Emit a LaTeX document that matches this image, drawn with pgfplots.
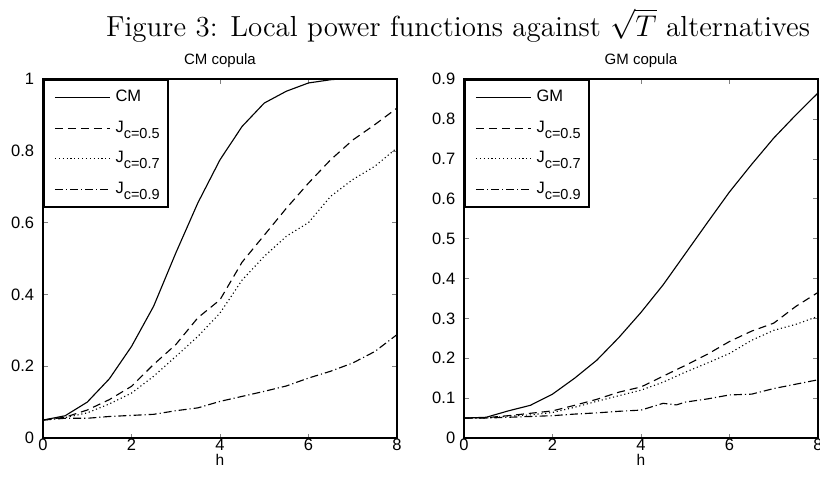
\documentclass[border=0pt]{standalone}
\usepackage{fontspec}
\setsansfont{Liberation Sans}
\usepackage{pgfplots}
\pgfplotsset{compat=1.18}
\usepackage{pgfplotstable}

\pgfplotstableread{
h v
0 0.05
0.5 0.062
1 0.10
1.5 0.165
2 0.255
2.5 0.367
3 0.515
3.5 0.655
4 0.775
4.5 0.868
5 0.933
5.5 0.966
6 0.989
6.5 0.998
6.7 1.0
}\cmA
\pgfplotstableread{
h v
0 0.05
0.5 0.058
1 0.078
1.5 0.107
2 0.144
2.5 0.205
3 0.26
3.5 0.335
4 0.385
4.5 0.49
5 0.565
5.5 0.64
6 0.71
6.5 0.775
7 0.83
7.5 0.873
8 0.919
}\cmB
\pgfplotstableread{
h v
0 0.05
0.5 0.057
1 0.07
1.5 0.095
2 0.125
2.5 0.172
3 0.227
3.5 0.283
4 0.348
4.5 0.44
5 0.506
5.5 0.562
6 0.6
6.5 0.673
7 0.72
7.5 0.757
8 0.808
}\cmC
\pgfplotstableread{
h v
0 0.05
0.5 0.055
1 0.055
1.5 0.06
2 0.063
2.5 0.066
3 0.076
3.5 0.084
4 0.102
4.5 0.116
5 0.13
5.5 0.145
6 0.167
6.5 0.186
7 0.209
7.5 0.241
8 0.288
}\cmD
\pgfplotstableread{
h v
0 0.05
0.5 0.052
1 0.068
1.5 0.082
2 0.11
2.5 0.15
3 0.195
3.5 0.252
4 0.315
4.5 0.384
5 0.462
5.5 0.54
6 0.617
6.5 0.686
7 0.752
7.5 0.81
8 0.865
}\gmA
\pgfplotstableread{
h v
0 0.05
0.5 0.051
1 0.056
1.5 0.062
2 0.068
2.5 0.082
3 0.097
3.5 0.115
4 0.128
4.5 0.155
5 0.182
5.5 0.21
6 0.242
6.5 0.268
7 0.288
7.5 0.33
8 0.365
}\gmB
\pgfplotstableread{
h v
0 0.05
0.5 0.05
1 0.055
1.5 0.058
2 0.064
2.5 0.077
3 0.092
3.5 0.106
4 0.12
4.5 0.14
5 0.165
5.5 0.188
6 0.212
6.5 0.245
7 0.27
7.5 0.285
8 0.305
}\gmC
\pgfplotstableread{
h v
0 0.05
0.5 0.05
1 0.052
1.5 0.054
2 0.056
2.5 0.06
3 0.063
3.5 0.067
4 0.07
4.5 0.087
4.8 0.083
5 0.09
5.5 0.098
6 0.108
6.5 0.11
7 0.124
7.5 0.135
8 0.146
}\gmD

\newcommand{\sub}[1]{J\raisebox{-2.4pt}{\fontsize{5.8}{6}\selectfont #1}}

\pgfplotsset{
  mstyle/.style={
    scale only axis,
    anchor=south west,
    width=141.6pt, height=143.6pt,
    axis line style={line width=0.5pt},
    tick align=inside,
    major tick length=1.8pt,
    xmin=0, xmax=8,
    xtick={0,2,4,6,8},
    every tick label/.append style={font=\sffamily\fontsize{6.6}{7}\selectfont},
    /pgf/number format/assume math mode=true,
    xticklabel style={anchor=base, yshift=-5.1pt},
    title style={at={(0.5,1)}, anchor=base, yshift=0pt, font=\sffamily\fontsize{6}{7}\selectfont},
    xlabel={h},
    xlabel style={at={(0.5,0)}, anchor=base, yshift=-11pt, font=\sffamily\fontsize{6.2}{7}\selectfont},
    legend style={at={(0,1)}, anchor=north west, draw=black, line width=0.7pt,
      font=\sffamily\fontsize{6.6}{7}\selectfont, row sep=2.2pt, inner xsep=1.2pt, inner ysep=2pt,
      cells={anchor=west}},
    legend cell align=left,
    legend image code/.code={\path (0pt,0pt); \draw[#1, line width=0.45pt] (3pt,0pt) -- (25pt,0pt);},
  },
  sld/.style={black, solid, line width=0.45pt, mark=none},
  dsh/.style={black, line width=0.45pt, mark=none, dash pattern=on 3.2pt off 2pt},
  dtt/.style={black, line width=0.45pt, mark=none, dash pattern=on 0.45pt off 1.1pt},
  dsd/.style={black, line width=0.45pt, mark=none, dash pattern=on 3.2pt off 1.2pt on 0.45pt off 1.2pt},
}

\begin{document}
\begin{tikzpicture}
\path[use as bounding box] (0,0) rectangle (328pt,194pt);
\node[anchor=base, font=\fontsize{11.6}{14}\selectfont] at (183.2pt,179.5pt) {Figure 3: Local power functions against $\sqrt{T}$ alternatives};

\begin{axis}[mstyle, at={(17.2pt,18.8pt)},
  title={CM copula},
  ymin=0, ymax=1, ytick={0,0.2,0.4,0.6,0.8,1},
  yticklabels={0,0.2,0.4,0.6,0.8,1},
  xticklabels={0,2,4,6,8}]
\addplot[sld] table[x=h,y=v] {\cmA};
\addlegendentry{CM}
\addplot[dsh] table[x=h,y=v] {\cmB};
\addlegendentry{\sub{c=0.5}}
\addplot[dtt] table[x=h,y=v] {\cmC};
\addlegendentry{\sub{c=0.7}}
\addplot[dsd] table[x=h,y=v] {\cmD};
\addlegendentry{\sub{c=0.9}}
\end{axis}

\begin{axis}[mstyle, at={(185.6pt,18.8pt)},
  title={GM copula},
  ymin=0, ymax=0.9, ytick={0,0.1,0.2,0.3,0.4,0.5,0.6,0.7,0.8,0.9},
  yticklabels={0,0.1,0.2,0.3,0.4,0.5,0.6,0.7,0.8,0.9},
  xticklabels={0,2,4,6,8}]
\addplot[sld] table[x=h,y=v] {\gmA};
\addlegendentry{GM}
\addplot[dsh] table[x=h,y=v] {\gmB};
\addlegendentry{\sub{c=0.5}}
\addplot[dtt] table[x=h,y=v] {\gmC};
\addlegendentry{\sub{c=0.7}}
\addplot[dsd] table[x=h,y=v] {\gmD};
\addlegendentry{\sub{c=0.9}}
\end{axis}
\end{tikzpicture}
\end{document}
